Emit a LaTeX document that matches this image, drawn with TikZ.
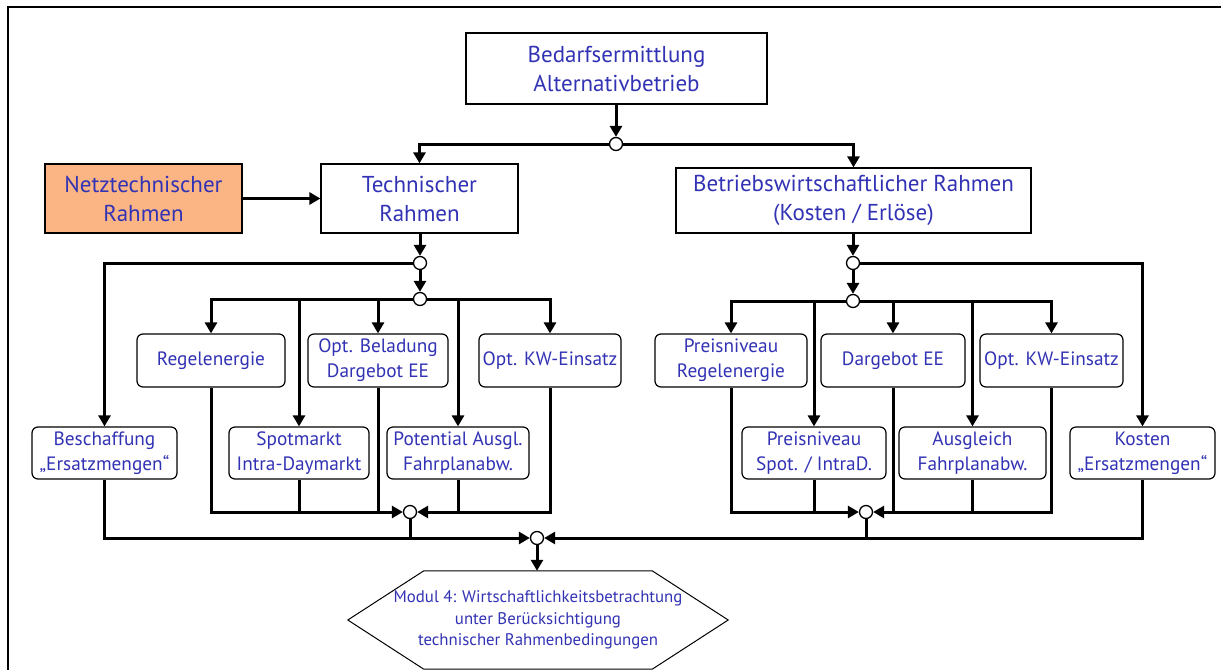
\documentclass[tikz,border=0pt]{standalone}
\usepackage{fontspec}
\setmainfont{PT Sans}
\usetikzlibrary{arrows.meta,calc}
\definecolor{txtblue}{RGB}{50,50,180}
\definecolor{netzorange}{RGB}{251,181,132}
\begin{document}
\begin{tikzpicture}[x=1pt,y=-1pt,
  bigbox/.style={draw, line width=1.2pt, text=txtblue, align=center, inner sep=0pt, font=\fontsize{23}{29}\selectfont},
  smallbox/.style={draw, line width=1.2pt, rounded corners=6pt, text=txtblue, align=center, inner sep=0pt, font=\fontsize{19.3}{25}\selectfont},
  upbox/.style={smallbox, minimum height=53pt},
  lowbox/.style={smallbox, minimum height=52pt},
  junc/.style={circle, draw, fill=white, line width=1.3pt, minimum size=13pt, inner sep=0pt},
  conn/.style={line width=3pt},
  arr/.style={conn, -{Triangle[length=11pt,width=12pt]}},
]
\useasboundingbox (0,0) rectangle (1221,670);
\draw[line width=2pt] (8,670) -- (8,7) -- (1221,7);

% main boxes
\node[bigbox, minimum width=301pt, minimum height=71pt] (bedarf) at (616.5,68.5) {Bedarfsermittlung\\Alternativbetrieb};
\node[bigbox, fill=netzorange, minimum width=197pt, minimum height=69pt] (netz) at (143.5,198.5) {Netztechnischer\\Rahmen};
\node[bigbox, minimum width=197pt, minimum height=69pt] (tech) at (419.5,198.5) {Technischer\\Rahmen};
\node[bigbox, minimum width=355pt, minimum height=65pt] (betr) at (853.5,200.5) {Betriebswirtschaftlicher Rahmen\\(Kosten / Erlöse)};

% upper small boxes
\node[upbox, minimum width=148pt] (regel) at (211,360.5) {Regelenergie};
\node[upbox, minimum width=140pt] (belad) at (378,360.5) {Opt. Beladung\\Dargebot EE};
\node[upbox, minimum width=142pt] (kwl) at (550,360.5) {Opt. KW-Einsatz};
\node[upbox, minimum width=152pt] (preisr) at (731,360.5) {Preisniveau\\Regelenergie};
\node[upbox, minimum width=144pt] (darg) at (893,360.5) {Dargebot EE};
\node[upbox, minimum width=143pt] (kwr) at (1051.5,360.5) {Opt. KW-Einsatz};

% lower small boxes
\node[lowbox, minimum width=145pt] (besch) at (104.5,453) {Beschaffung\\„Ersatzmengen“};
\node[lowbox, minimum width=140pt] (spot) at (299,453) {Spotmarkt\\Intra-Daymarkt};
\node[lowbox, minimum width=142pt] (pot) at (458,453) {Potential Ausgl.\\Fahrplanabw.};
\node[lowbox, minimum width=144pt] (preiss) at (814,453) {Preisniveau\\Spot. / IntraD.};
\node[lowbox, minimum width=147pt] (ausg) at (972.5,453) {Ausgleich\\Fahrplanabw.};
\node[lowbox, minimum width=145pt] (kost) at (1142.5,453) {Kosten\\„Ersatzmengen“};

% final module
\node[minimum width=380pt, minimum height=98pt, inner sep=0pt, text=txtblue, align=center, font=\fontsize{16.8}{21.5}\selectfont] (modul) at (538,620) {Modul 4: Wirtschaftlichkeitsbetrachtung\\unter Berücksichtigung\\technischer Rahmenbedingungen};
\draw[line width=1pt] (modul.west) -- ($(modul.north west)+(76,0)$) -- ($(modul.north east)+(-76,0)$) -- (modul.east) -- ($(modul.south east)+(-76,0)$) -- ($(modul.south west)+(76,0)$) -- cycle;

% junctions
\node[junc] (jtop) at (616,144) {};
\node[junc] (jl1) at (420,263) {};
\node[junc] (jl2) at (420,299) {};
\node[junc] (jr1) at (853,263) {};
\node[junc] (jr2) at (853,301) {};
\node[junc] (jlb) at (410,512) {};
\node[junc] (jrb) at (866,512) {};
\node[junc] (jm) at (537,538) {};

% top
\draw[arr] (bedarf.south -| jtop) -- (jtop.north);
\draw[arr] (jtop.west) -| (tech.north);
\draw[arr] (jtop.east) -| (betr.north);
\draw[arr] (netz.east) -- (tech.west);

% left tree
\draw[arr] (tech.south -| jl1) -- (jl1.north);
\draw[arr] (jl1.west) -| (besch.north);
\draw[arr] (jl1.south) -- (jl2.north);
\draw[arr] (jl2.west) -| (regel.north);
\draw[arr] (jl2.east) -| (kwl.north);
\draw[arr] (spot.north |- jl2) -- (spot.north);
\draw[arr] (belad.north |- jl2) -- (belad.north);
\draw[arr] (pot.north |- jl2) -- (pot.north);

\draw[arr] (regel.south) |- (jlb.west);
\draw[arr] (kwl.south) |- (jlb.east);
\draw[conn] (spot.south) -- (spot.south |- jlb);
\draw[conn] (belad.south) -- (belad.south |- jlb);
\draw[conn] (pot.south) -- (pot.south |- jlb);
\draw[conn] (jlb.south) -- (jlb |- jm);

% right tree
\draw[arr] (betr.south -| jr1) -- (jr1.north);
\draw[arr] (jr1.east) -| (kost.north);
\draw[arr] (jr1.south) -- (jr2.north);
\draw[arr] (jr2.west) -| (preisr.north);
\draw[arr] (jr2.east) -| (kwr.north);
\draw[arr] (preiss.north |- jr2) -- (preiss.north);
\draw[arr] (darg.north |- jr2) -- (darg.north);
\draw[arr] (ausg.north |- jr2) -- (ausg.north);

\draw[arr] (preisr.south) |- (jrb.west);
\draw[arr] (kwr.south) |- (jrb.east);
\draw[conn] (preiss.south) -- (preiss.south |- jrb);
\draw[conn] (darg.south) -- (darg.south |- jrb);
\draw[conn] (ausg.south) -- (ausg.south |- jrb);
\draw[conn] (jrb.south) -- (jrb |- jm);

% main collector
\draw[arr] (besch.south) |- (jm.west);
\draw[arr] (kost.south) |- (jm.east);
\draw[arr] (jm.south) -- (jm.south |- modul.north);
\end{tikzpicture}
\end{document}
